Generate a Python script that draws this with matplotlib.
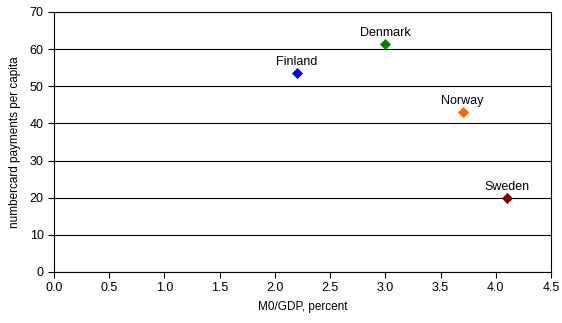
import matplotlib
matplotlib.use("Agg")
import matplotlib.pyplot as plt

plt.rcParams['font.family'] = ['Liberation Sans', 'DejaVu Sans']

# data
countries = ['Finland', 'Denmark', 'Norway', 'Sweden']
m0_gdp = [2.2, 3.0, 3.7, 4.1]
card_payments = [53.5, 61.5, 43.0, 20.0]
colors = ['#0000FF', '#008000', '#FF6600', '#800000']

fig = plt.figure(figsize=(5.62, 3.23), dpi=100)
ax = fig.add_axes([54 / 562, 1 - 272 / 323, 497 / 562, 260 / 323])

for name, x, y, c in zip(countries, m0_gdp, card_payments, colors):
    ax.scatter(x, y, marker='D', s=32, color=c, zorder=3, linewidths=0)
    ax.annotate(name, (x, y), xytext=(0, 3.5), textcoords='offset points',
                ha='center', va='bottom', fontsize=9)

ax.set_xlim(0, 4.5)
ax.set_ylim(0, 70)
ax.set_xticks([i * 0.5 for i in range(10)])
ax.set_yticks(range(0, 71, 10))
ax.xaxis.set_major_formatter(matplotlib.ticker.FormatStrFormatter('%.1f'))
ax.yaxis.grid(True, color='black', linewidth=0.8)
ax.set_axisbelow(True)
ax.tick_params(labelsize=9, length=4, direction='out', width=0.8)
for s in ax.spines.values():
    s.set_linewidth(0.8)

ax.set_xlabel('M0/GDP, percent', fontsize=8.5, labelpad=5)
ax.set_ylabel('numbercard payments per capita', fontsize=8.5, labelpad=6)

fig.savefig('out.png', dpi=100)
